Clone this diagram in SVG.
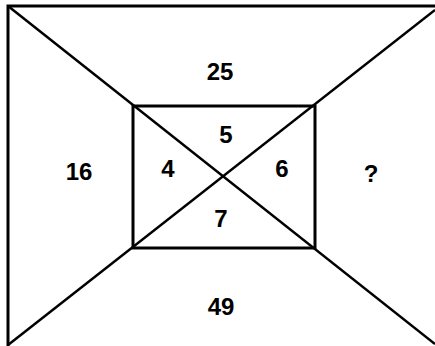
<svg xmlns="http://www.w3.org/2000/svg" width="435" height="346" viewBox="0 0 435 346">
<style>
.ln{stroke:#000;stroke-width:2.5;fill:none;stroke-linecap:butt}
.bd{stroke:#000;stroke-width:3;fill:none}
.t{font-family:"Liberation Sans",Arial,sans-serif;font-weight:bold;font-size:24px;fill:#000;text-anchor:middle}
</style>
<rect width="435" height="346" fill="#fff"/>
<g id="frame">
<path class="bd" d="M435,6 L8,6 L8,346"/>
</g>
<g id="inner">
<rect class="bd" x="133" y="106" width="182" height="142"/>
</g>
<g id="connectors">
<line class="ln" x1="8" y1="6" x2="435" y2="344"/>
<line class="ln" x1="8" y1="345" x2="435" y2="10"/>
</g>
<g id="labels">
<text class="t" x="220" y="80">25</text>
<text class="t" x="79" y="180">16</text>
<text class="t" x="371" y="182">?</text>
<text class="t" x="221" y="315">49</text>
<text class="t" x="226" y="143">5</text>
<text class="t" x="168" y="177">4</text>
<text class="t" x="282" y="177">6</text>
<text class="t" x="221" y="227">7</text>
</g>
</svg>
